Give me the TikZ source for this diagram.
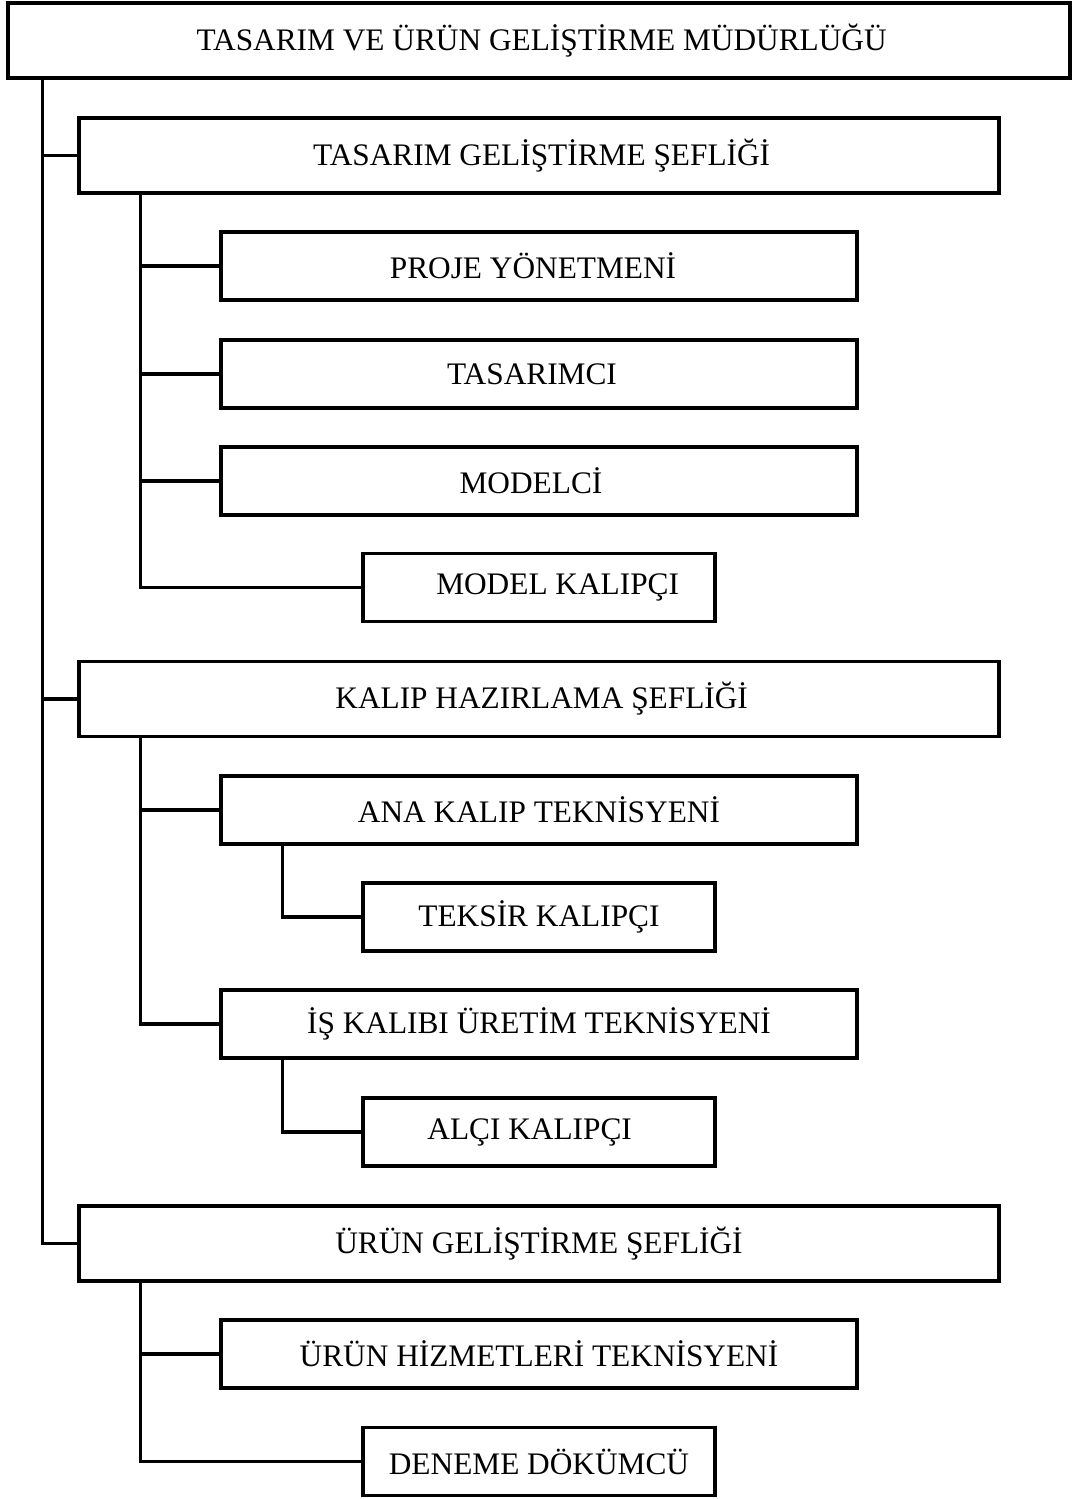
\documentclass[tikz,border=0pt]{standalone}
\usepackage{fontspec}
\setmainfont{Liberation Serif}
\usetikzlibrary{calc}
\begin{document}
\begin{tikzpicture}[x=0.75pt,y=-0.75pt,
  box/.style={draw,line width=2.3pt,rectangle,inner sep=0pt,align=center,font=\fontsize{23.5}{28}\selectfont},
  topbox/.style={box,minimum width=1062*0.75pt,minimum height=75*0.75pt},
  widebox/.style={box,minimum width=920*0.75pt,minimum height=75*0.75pt},
  midbox/.style={box,minimum width=636*0.75pt,minimum height=68*0.75pt},
  smallbox/.style={box,minimum width=352*0.75pt,minimum height=68*0.75pt},
  conn/.style={line width=2.3pt}]
\useasboundingbox (0,0) rectangle (1074,1499);
\fill[white] (0,0) rectangle (1074,1499);
% boxes
\node[topbox] (top) at (539,40.5) {\hspace*{4pt}TASARIM VE ÜRÜN GELİŞTİRME MÜDÜRLÜĞÜ};
\node[widebox] (s1) at (539,155.5) {\hspace*{4pt}TASARIM GELİŞTİRME ŞEFLİĞİ};
\node[midbox] (pm) at (539,266) {\hspace*{-9pt}PROJE YÖNETMENİ};
\node[midbox] (ts) at (539,374) {\hspace*{-10.5pt}TASARIMCI};
\node[midbox] (md) at (539,481) {\hspace*{-12pt}MODELCİ};
\node[smallbox] (mk) at (539,587.5) {\hspace*{28pt}MODEL KALIPÇI};
\node[widebox] (s2) at (539,699) {\hspace*{4pt}KALIP HAZIRLAMA ŞEFLİĞİ};
\node[midbox] (ak) at (539,810) {ANA KALIP TEKNİSYENİ};
\node[smallbox] (tk) at (539,917) {TEKSİR KALIPÇI};
\node[midbox] (ik) at (539,1024) {İŞ KALIBI ÜRETİM TEKNİSYENİ};
\node[smallbox] (al) at (539,1132) {\hspace*{-14pt}ALÇI KALIPÇI};
\node[widebox] (s3) at (539,1243.5) {ÜRÜN GELİŞTİRME ŞEFLİĞİ};
\node[midbox] (uh) at (539,1354) {ÜRÜN HİZMETLERİ TEKNİSYENİ};
\node[smallbox] (dd) at (539,1461.5) {DENEME DÖKÜMCÜ};
% trunk coordinates
\coordinate (t0) at ($(top.south west)+(36,0)$);
\coordinate (t1) at ($(s1.south west)+(63,0)$);
\coordinate (t2) at ($(s2.south west)+(63,0)$);
\coordinate (t3) at ($(s3.south west)+(63,0)$);
\coordinate (ta) at ($(ak.south west)+(63,0)$);
\coordinate (ti) at ($(ik.south west)+(63,0)$);
% main trunk
\draw[conn] (t0) |- (s3.west);
\draw[conn] (t0 |- s1.west) -- (s1.west);
\draw[conn] (t0 |- s2.west) -- (s2.west);
% group 1
\draw[conn] (t1) |- (mk.west);
\draw[conn] (t1 |- pm.west) -- (pm.west);
\draw[conn] (t1 |- ts.west) -- (ts.west);
\draw[conn] (t1 |- md.west) -- (md.west);
% group 2
\draw[conn] (t2) |- (ik.west);
\draw[conn] (t2 |- ak.west) -- (ak.west);
\draw[conn] (ta) |- (tk.west);
\draw[conn] (ti) |- (al.west);
% group 3
\draw[conn] (t3) |- (dd.west);
\draw[conn] (t3 |- uh.west) -- (uh.west);
\end{tikzpicture}
\end{document}
